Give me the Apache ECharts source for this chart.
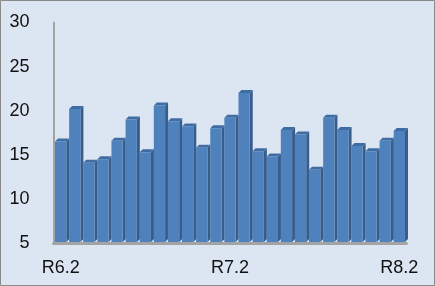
<!DOCTYPE html>
<html><head><meta charset="utf-8">
<script src="https://cdn.jsdelivr.net/npm/echarts@6/dist/echarts.min.js"></script>
<style>html,body{margin:0;padding:0;background:#dce6f2}#c{width:435px;height:286px}</style>
</head><body><div id="c"></div>
<script>
const categories = ['R6.2','R6.3','R6.4','R6.5','R6.6','R6.7','R6.8','R6.9','R6.10','R6.11','R6.12',
  'R7.1','R7.2','R7.3','R7.4','R7.5','R7.6','R7.7','R7.8','R7.9','R7.10','R7.11','R7.12','R8.1','R8.2'];
const values = [16.5, 20.2, 14.1, 14.5, 16.6, 19.0, 15.3, 20.6, 18.8, 18.2, 15.8, 18.0,
  19.2, 22.0, 15.4, 14.8, 17.8, 17.3, 13.3, 19.2, 17.8, 16.0, 15.4, 16.6, 17.7];
const yTicks = {min: 5, max: 30, interval: 5};

const chart = echarts.init(document.getElementById('c'));
chart.setOption({
  animation: false,
  backgroundColor: '#dce6f2',
  grid: {left: 53.6, right: 28.6, top: 22.5, bottom: 43},
  xAxis: {
    type: 'category', data: categories,
    axisTick: {show: false},
    axisLine: {lineStyle: {color: '#a3a3a3', width: 3}},
    axisLabel: {interval: 11, margin: 16, fontSize: 18, color: '#111',
      fontFamily: 'Liberation Sans'}
  },
  yAxis: {
    type: 'value', min: yTicks.min, max: yTicks.max, interval: yTicks.interval,
    splitLine: {show: false},
    axisTick: {show: false},
    axisLine: {show: true, lineStyle: {color: '#a3a3a3', width: 2}},
    axisLabel: {margin: 24, fontSize: 18, color: '#111', fontFamily: 'Liberation Sans'}
  },
  graphic: [{type: 'rect', shape: {x: 0.5, y: 0.5, width: 434, height: 285},
    style: {fill: null, stroke: '#8a8a8a', lineWidth: 1}, z: 100}],
  series: [{
    type: 'custom',
    data: values.map((v, i) => [i, v]),
    renderItem: function (params, api) {
      const i = api.value(0), v = api.value(1);
      const top = api.coord([i, v]);
      const base = api.coord([i, yTicks.min]);
      const band = api.size([1, 0])[0];
      const w = band * 0.8, d = 3;
      const x0 = top[0] - w / 2, x1 = x0 + w;
      const yt = top[1], yb = base[1] - 1;
      return {
        type: 'group',
        children: [
          {type: 'polygon', shape: {points: [[x1, yt], [x1 + d, yt - d], [x1 + d, yb - d], [x1, yb]]},
            style: {fill: '#385d8a'}},
          {type: 'polygon', shape: {points: [[x0, yt], [x0 + d, yt - d], [x1 + d, yt - d], [x1, yt]]},
            style: {fill: '#3f6ca3'}},
          {type: 'rect', shape: {x: x0, y: yt, width: w, height: yb - yt},
            style: {fill: '#4f81bd'}}
        ]
      };
    }
  }]
});
</script></body></html>
